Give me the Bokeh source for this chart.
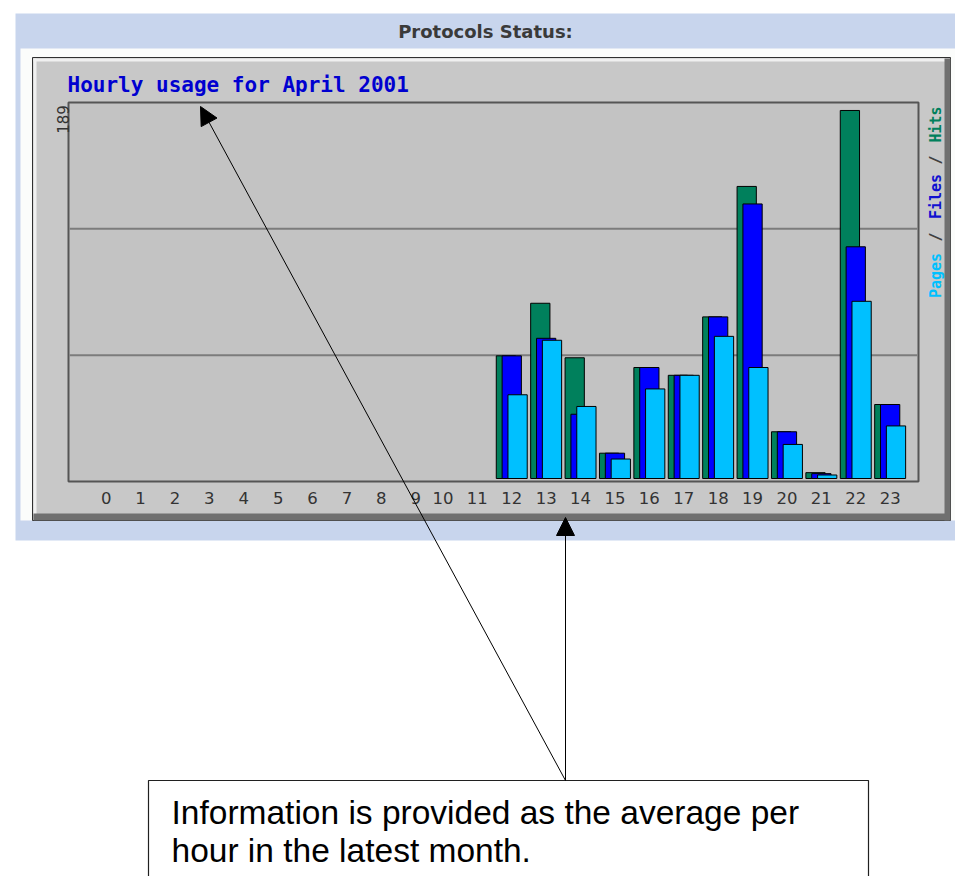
import math
from bokeh.plotting import figure
from bokeh.models import ColumnDataSource, Range1d, Arrow, NormalHead
from bokeh.core.properties import value
from bokeh.transform import dodge
from bokeh.embed import file_html
from bokeh.resources import INLINE

# ---------------- data ----------------
hours = [0, 1, 2, 3, 4, 5, 6, 7, 8, 9, 10, 11, 12, 13, 14, 15, 16, 17, 18, 19, 20, 21, 22, 23]
hour_labels = [str(h) for h in hours]
hits = [0, 0, 0, 0, 0, 0, 0, 0, 0, 0, 0, 0, 63, 90, 62, 13, 57, 53, 83, 150, 24, 3, 189, 38]
files = [0, 0, 0, 0, 0, 0, 0, 0, 0, 0, 0, 0, 63, 72, 33, 13, 57, 53, 83, 141, 24, 2.5, 119, 38]
pages = [0, 0, 0, 0, 0, 0, 0, 0, 0, 0, 0, 0, 43, 71, 37, 10, 46, 53, 73, 57, 17.5, 1.8, 91, 27]
max_value_label = "189"
chart_title = "Hourly usage for April 2001"
header_text = "Protocols Status:"
legend_parts = ["Pages", "/", "Files", "/", "Hits"]
note_lines = ["Information is provided as the average per", "hour in the latest month."]

HIT_C, FILE_C, PAGE_C = "#00805c", "#0000ff", "#00c0ff"

# ---------------- canvas / scales ----------------
W, H = 955, 876
# plot area (pixels on the page) and the data window it shows
PA_L, PA_R, PA_T, PA_B = 68, 918, 102, 481
HX0, HX1 = -0.885, 23.824          # hours shown across the plot area
VY0, VY1 = -1.54, 193.1            # values shown down the plot area
kx = (HX1 - HX0) / (PA_R - PA_L)
ky = (VY1 - VY0) / (PA_B - PA_T)

p = figure(width=W, height=H, output_backend="svg", toolbar_location=None,
           x_range=Range1d(0, W), y_range=Range1d(H, 0),
           x_axis_location=None, y_axis_location=None,
           min_border=0, outline_line_color=None,
           background_fill_color="white", border_fill_color="white")
p.grid.visible = False
p.extra_x_ranges = {"hour": Range1d(HX0 - PA_L * kx, HX1 + (W - PA_R) * kx)}
p.extra_y_ranges = {"val": Range1d(VY0 - (H - PA_B) * ky, VY1 + PA_T * ky)}

def rect(l, r, t, b, fill, line=None, lw=1):
    p.quad(left=[l], right=[r], top=[t], bottom=[b], fill_color=fill,
           line_color=line, line_width=lw)

# page frame: blue band, white cell, bevelled grey panel
rect(15, W, 13, 540, "#c8d5ed")
rect(20, W, 48, 520, "#fbfcfb")
rect(32, 950, 57, 520, "#c8c8c8", "#303030", 1)
rect(33, 949, 58, 61, "#f0f0f0")
rect(33, 36, 58, 514, "#f0f0f0")
rect(33, 949, 513, 520, "#707070")
rect(944, 950, 58, 520, "#707070")
# plot area
rect(PA_L, PA_R, PA_T, PA_B, "#c3c3c3", "#555555", 2)

# grid lines at thirds of the plot area
g = [VY0 + (VY1 - VY0) / 3, VY0 + 2 * (VY1 - VY0) / 3]
p.segment(x0=[HX0 + 0.03] * 2, x1=[HX1 - 0.03] * 2, y0=g, y1=g,
          x_range_name="hour", y_range_name="val", line_color="#7c7c7c", line_width=2)

# bars
keep = [i for i in range(len(hours)) if hits[i] > 0]
src = ColumnDataSource(dict(hour=[hours[i] for i in keep],
                            hits=[hits[i] for i in keep],
                            files=[files[i] for i in keep],
                            pages=[pages[i] for i in keep]))
for col, off, colr in (("hits", -0.17, HIT_C), ("files", 0.0, FILE_C), ("pages", 0.17, PAGE_C)):
    p.vbar(x=dodge("hour", off, range=p.extra_x_ranges["hour"]), width=0.56, top=col, bottom=0,
           source=src, fill_color=colr, line_color="black", line_width=1,
           x_range_name="hour", y_range_name="val")

# x tick labels (hour axis)
xt = [h + (0.21 if len(lab) == 1 else 0.0) for h, lab in zip(hours, hour_labels)]
p.text(x=xt, y=[497] * len(xt), text=hour_labels, x_range_name="hour",
       text_font=value("DejaVu Sans"), text_font_size="16.5px", text_color="#333333",
       text_align="center", text_baseline="middle")
# max value label on the value axis
p.text(x=[62], y=[184.4], text=[max_value_label], y_range_name="val", angle=math.pi / 2,
       text_font=value("DejaVu Sans"), text_font_size="15px", text_color="#333333",
       text_align="center", text_baseline="middle")

def label(text, x, y, size, color, font="DejaVu Sans", style="normal",
          align="left", angle=0.0):
    p.text(x=[x], y=[y], text=[text], angle=angle, text_font=value(font),
           text_font_size=size, text_color=color, text_font_style=style,
           text_align=align, text_baseline="middle")

label(header_text, 485, 31, "18px", "#3a3a3a", style="bold", align="center")
label(chart_title, 67, 84, "21px", "#0000d0", font="DejaVu Sans Mono", style="bold")
legend_colors = [PAGE_C, "#404040", "#1010d0", "#404040", HIT_C]
legend_y = [275, 236.5, 196, 159.5, 124]
for txt, col, yy in zip(legend_parts, legend_colors, legend_y):
    label(txt, 935, yy, "15px", col, font="DejaVu Sans Mono", style="bold",
          align="center", angle=math.pi / 2)

# note box
rect(148, 868, 780, 900, "white", "#202020", 1.2)
label(note_lines[0], 171, 812, "33.5px", "black", font="Liberation Sans")
label(note_lines[1], 171, 850, "33.5px", "black", font="Liberation Sans")

# arrows
for ex, ey in ((565, 517), (200, 106)):
    p.add_layout(Arrow(x_start=565, y_start=780, x_end=ex, y_end=ey,
                       line_color="black", line_width=1,
                       end=NormalHead(size=18, fill_color="black", line_color="black")))

open("out.html", "w").write(file_html(p, INLINE))
